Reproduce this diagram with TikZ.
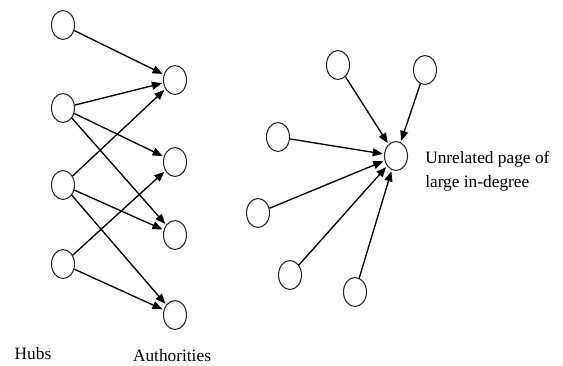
\documentclass[tikz,border=0pt]{standalone}
\usepackage{fontspec}
\setmainfont{Liberation Serif}
\usetikzlibrary{shapes.geometric,arrows.meta}
\begin{document}
\begin{tikzpicture}[x=0.75pt,y=-0.75pt,
  pg/.style={draw=black!85,line width=0.8pt,ellipse,minimum width=17.25pt,minimum height=21.75pt,inner sep=0pt},
  lnk/.style={line width=1pt,-{Triangle[length=7.5pt,width=6pt]},shorten >=1pt},
  lbl/.style={font=\fontsize{13}{18}\selectfont,inner sep=0pt}]
\useasboundingbox (0,0) rectangle (563,365);
% left: hubs and authorities
\node[pg] (h1) at (63,25) {};
\node[pg] (h2) at (63,108) {};
\node[pg] (h3) at (63,185) {};
\node[pg] (h4) at (63,264) {};
\node[pg] (a1) at (175,80) {};
\node[pg] (a2) at (175,162) {};
\node[pg] (a3) at (175,235) {};
\node[pg] (a4) at (175,315) {};
\draw[lnk] (h1) -- (a1);
\draw[lnk] (h2) -- (a1);
\draw[lnk] (h2) -- (a2);
\draw[lnk] (h2) -- (a3);
\draw[lnk] (h3) -- (a1);
\draw[lnk] (h3) -- (a3);
\draw[lnk] (h3) -- (a4);
\draw[lnk] (h4) -- (a2);
\draw[lnk] (h4) -- (a4);
\node[lbl] (hubs) at (33,354) {Hubs};
\node[lbl] (auth) at (172,356) {Authorities};
% right: unrelated page
\node[pg] (c) at (396,156) {};
\node[pg] (r1) at (338,65) {};
\node[pg] (r2) at (425,70) {};
\node[pg] (r3) at (278,137) {};
\node[pg] (r4) at (258,213) {};
\node[pg] (r5) at (290,275) {};
\node[pg] (r6) at (355,292) {};
\foreach \n in {r1,r2,r3,r4,r5,r6} \draw[lnk] (\n) -- (c);
\node[lbl,anchor=west,align=left] (txt) at (425,171) {Unrelated page of\\large in-degree};
\end{tikzpicture}
\end{document}
